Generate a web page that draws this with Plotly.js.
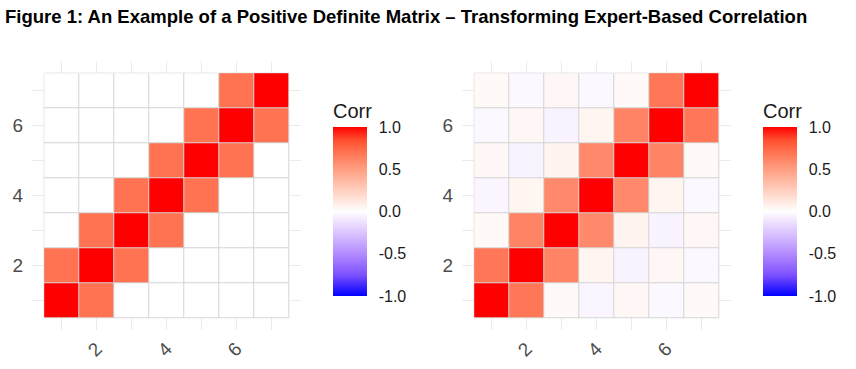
<!DOCTYPE html>
<html>
<head>
<meta charset="utf-8">
<script src="https://cdn.plot.ly/plotly-3.0.1.min.js"></script>
<style>html,body{margin:0;padding:0;background:#fff;}#chart{width:856px;height:369px;}</style>
</head>
<body>
<div id="chart"></div>
<script>
// ---- data ----
var varIndex = [1, 2, 3, 4, 5, 6, 7];
var tickValues = [2, 4, 6];
var tickLabels = ['2', '4', '6'];
var corrTicks = [-1, -0.5, 0, 0.5, 1];
var corrTickLabels = ['-1.0', '-0.5', '0.0', '0.5', '1.0'];

// Expert-based correlation (rows: var 1..7, columns: var 1..7)
var expertCorr = [
  [1.0, 0.7, 0.0, 0.0, 0.0, 0.0, 0.0],
  [0.7, 1.0, 0.7, 0.0, 0.0, 0.0, 0.0],
  [0.0, 0.7, 1.0, 0.7, 0.0, 0.0, 0.0],
  [0.0, 0.0, 0.7, 1.0, 0.7, 0.0, 0.0],
  [0.0, 0.0, 0.0, 0.7, 1.0, 0.7, 0.0],
  [0.0, 0.0, 0.0, 0.0, 0.7, 1.0, 0.7],
  [0.0, 0.0, 0.0, 0.0, 0.0, 0.7, 1.0]
];

// Nearest positive definite correlation matrix
var pdCorr = [
  [ 1.00,  0.68,  0.03, -0.04,  0.04, -0.03,  0.03],
  [ 0.68,  1.00,  0.62,  0.05, -0.05,  0.04, -0.03],
  [ 0.03,  0.62,  1.00,  0.60,  0.06, -0.05,  0.04],
  [-0.04,  0.05,  0.60,  1.00,  0.60,  0.05, -0.03],
  [ 0.04, -0.05,  0.06,  0.60,  1.00,  0.62,  0.03],
  [-0.03,  0.04, -0.05,  0.05,  0.62,  1.00,  0.68],
  [ 0.03, -0.03,  0.04, -0.03,  0.03,  0.68,  1.00]
];

// ---- styling ----
var W = 856, H = 369;
var colorscale = [
  [0.000, 'rgb(0,0,255)'],
  [0.125, 'rgb(126,81,255)'],
  [0.250, 'rgb(179,139,255)'],
  [0.375, 'rgb(220,197,255)'],
  [0.450, 'rgb(242,231,255)'],
  [0.500, 'rgb(255,255,255)'],
  [0.550, 'rgb(255,236,229)'],
  [0.625, 'rgb(255,207,191)'],
  [0.750, 'rgb(255,158,129)'],
  [0.850, 'rgb(255,115,82)'],
  [0.925, 'rgb(255,77,46)'],
  [1.000, 'rgb(255,0,0)']
];
var fontFam = 'Liberation Sans, Arial, sans-serif';

function cbar(xpx) {
  return {
    x: xpx / W, xanchor: 'left', xpad: 0, ypad: 0,
    y: (H - 296) / H, yanchor: 'bottom',
    len: 196, lenmode: 'pixels',
    thickness: 34, thicknessmode: 'pixels',
    outlinewidth: 0,
    tickmode: 'array', tickvals: corrTicks, ticktext: corrTickLabels,
    ticks: 'outside', tickcolor: 'rgba(255,255,255,0)', ticklen: 9, tickwidth: 1,
    tickfont: {family: fontFam, size: 16, color: '#1a1a1a'},
    title: {text: 'Corr', side: 'top', font: {family: fontFam, size: 20, color: '#1a1a1a'}}
  };
}

function hm(z, xa, ya, xpx) {
  return {
    type: 'heatmap', x: varIndex, y: varIndex, z: z,
    xaxis: xa, yaxis: ya,
    zmin: -1, zmax: 1, colorscale: colorscale,
    xgap: 1, ygap: 1,
    colorbar: cbar(xpx), showscale: true,
    hoverinfo: 'x+y+z'
  };
}

function axis(domain, isX, anchor) {
  var a = {
    domain: domain, anchor: anchor,
    range: [0.15, 7.85], autorange: false,
    tickmode: 'array', tickvals: tickValues, ticktext: tickLabels,
    showgrid: true, gridcolor: '#ebebeb', gridwidth: 1,
    zeroline: false, showline: false, ticks: '',
    tickfont: {family: fontFam, size: 19, color: '#4d4d4d'},
    minor: {tickvals: [1, 3, 5, 7], showgrid: true, gridcolor: '#ebebeb', gridwidth: 1, ticks: ''},
    fixedrange: true
  };
  if (isX) { a.tickangle = -45; a.ticklabelstandoff = 3; }
  else { a.ticklabelstandoff = 8; }
  return a;
}

var yDom = [(H - 330) / H, (H - 61) / H];

var data = [
  hm(expertCorr, 'x', 'y', 333),
  hm(pdCorr, 'x2', 'y2', 763)
];

function tileBack(xr, yr) {
  return {type: 'rect', xref: xr, yref: yr, x0: 0.5, x1: 7.5, y0: 0.5, y1: 7.5,
          fillcolor: '#d4d4d4', line: {color: '#d4d4d4', width: 1}, layer: 'between'};
}

var layout = {
  width: W, height: H, autosize: false,
  margin: {l: 0, r: 0, t: 0, b: 0, pad: 0},
  paper_bgcolor: '#ffffff', plot_bgcolor: '#ffffff',
  showlegend: false,
  title: {
    text: '<b>Figure 1: An Example of a Positive Definite Matrix \u2013 Transforming Expert-Based Correlation</b>',
    x: 5 / W, xanchor: 'left', xref: 'paper',
    y: 1 - 17 / H, yanchor: 'middle', yref: 'paper',
    font: {family: fontFam, size: 18.5, color: '#000000'}
  },
  xaxis: axis([32 / W, 301 / W], true, 'y'),
  yaxis: axis(yDom, false, 'x'),
  xaxis2: axis([462 / W, 731 / W], true, 'y2'),
  yaxis2: axis(yDom, false, 'x2'),
  shapes: [tileBack('x', 'y'), tileBack('x2', 'y2')]
};

Plotly.newPlot('chart', data, layout, {staticPlot: true, displayModeBar: false});
</script>
</body>
</html>
